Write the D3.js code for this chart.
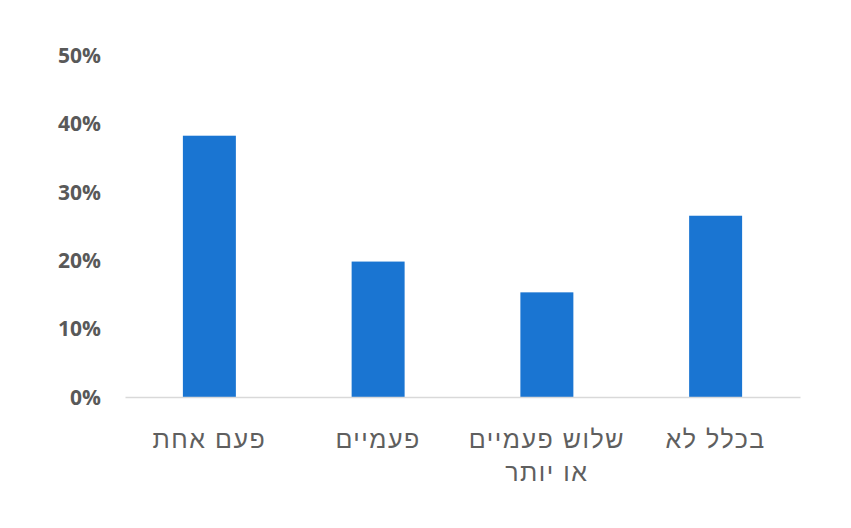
<!DOCTYPE html>
<html>
<head>
<meta charset="utf-8">
<script src="https://cdn.jsdelivr.net/npm/d3@7"></script>
<style>
  html, body { margin: 0; padding: 0; background: #fff; }
  svg { display: block; }
</style>
</head>
<body>
<svg id="chart" width="851" height="528"></svg>
<script>
const categories = [["פעם אחת"], ["פעמיים"], ["שלוש פעמיים", "או יותר"], ["בכלל לא"]];
const values = [0.382, 0.198, 0.153, 0.265];
const tickValues = [0, 0.1, 0.2, 0.3, 0.4, 0.5];

const svg = d3.select("#chart");
const x = d3.scaleBand().domain(d3.range(categories.length)).range([125, 800]).paddingInner(0.686).paddingOuter(0.343);
const y = d3.scaleLinear().domain([0, 0.5]).range([397, 55]);

// bars
svg.append("g").selectAll("rect").data(values).join("rect")
  .attr("x", (d, i) => x(i))
  .attr("width", x.bandwidth())
  .attr("y", d => y(d))
  .attr("height", d => y(0) - y(d))
  .attr("fill", "#1a75d2");

// baseline
const xAxis = svg.append("g").attr("transform", `translate(0,${y(0)})`)
  .call(d3.axisBottom(x).tickSize(0).tickFormat(""));
xAxis.select(".domain").attr("stroke", "#d9d9d9").attr("stroke-width", 1.3);

// category labels
const lab = svg.append("g").selectAll("text").data(categories).join("text")
  .attr("x", (d, i) => x(i) + x.bandwidth() / 2)
  .attr("y", 448)
  .attr("text-anchor", "middle")
  .attr("direction", "rtl")
  .attr("font-family", "'Liberation Sans', Arial, sans-serif")
  .attr("font-size", 25)
  .attr("letter-spacing", 1.5)
  .attr("fill", "#5f5f5f");
lab.selectAll("tspan").data(d => d).join("tspan")
  .attr("x", function() { return d3.select(this.parentNode).attr("x"); })
  .attr("dy", (d, i) => i === 0 ? 0 : 33)
  .text(d => d);

// y axis labels
const yAxis = svg.append("g").attr("transform", "translate(101,0)")
  .call(d3.axisLeft(y).tickValues(tickValues).tickSize(0).tickPadding(0).tickFormat(d3.format(".0%")));
yAxis.select(".domain").remove();
yAxis.selectAll("text")
  .attr("font-family", "'Open Sans', 'Liberation Sans', sans-serif")
  .attr("font-weight", "bold")
  .attr("font-size", 21)
  .attr("fill", "#595959")
  .attr("dy", "0.35em");
</script>
</body>
</html>
